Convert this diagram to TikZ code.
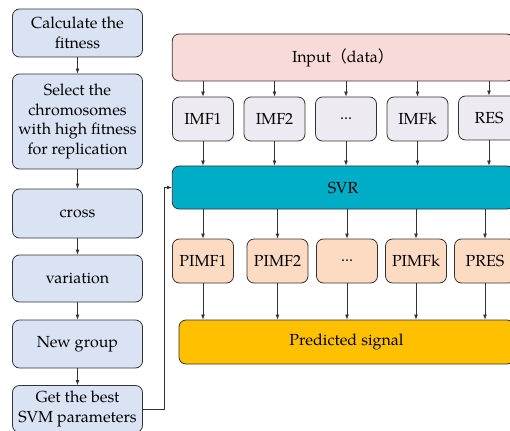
\documentclass[tikz,border=0pt]{standalone}
\usepackage{fontspec}
\setmainfont{TeX Gyre Pagella}
\newfontfamily\cjk{Noto Sans CJK SC}
\usepackage{xcolor}
\usetikzlibrary{arrows.meta}
\definecolor{gablue}{HTML}{DAE3F3}
\definecolor{inpink}{HTML}{F8DBD9}
\definecolor{imfgray}{HTML}{EEEAF1}
\definecolor{svrteal}{HTML}{00ADC6}
\definecolor{pimfpeach}{HTML}{FDDAC2}
\definecolor{predgold}{HTML}{FFC000}
\tikzset{
  box/.style={draw=black!80, line width=0.8pt, rounded corners=7pt, align=center,
    inner sep=0pt, font=\fontsize{16}{19.5}\selectfont},
  gabox/.style={box, fill=gablue, minimum width=130pt},
  imfbox/.style={box, fill=imfgray, minimum width=61pt, minimum height=44pt},
  pimfbox/.style={box, fill=pimfpeach, minimum width=61pt, minimum height=44pt},
  link/.style={draw=black!80, line width=0.8pt, -{Latex[length=5pt,width=4pt]}}
}

\begin{document}
\begin{tikzpicture}[x=1pt, y=-1pt]
  \useasboundingbox (0,0) rectangle (510,430);

  % genetic algorithm column
  \node [gabox, minimum height=48pt] (fit) at (77.5,33) {Calculate the\\fitness};
  \node [gabox, minimum height=95pt] (sel) at (77.5,121.5) {Select the\\chromosomes\\with high fitness\\for replication};
  \node [gabox, minimum height=49pt] (cross) at (77.5,213.5) {cross};
  \node [gabox, minimum height=47pt] (var) at (77.5,278.5) {variation};
  \node [gabox, minimum height=48pt] (group) at (77.5,344) {New group};
  \node [gabox, minimum height=47pt] (best) at (77.5,409) {Get the best\\SVM parameters};
  \draw [link] (fit) -- (sel);
  \draw [link] (sel) -- (cross);
  \draw [link] (cross) -- (var);
  \draw [link] (var) -- (group);
  \draw [link] (group) -- (best);

  % decomposition and prediction
  \node [box, fill=inpink, minimum width=341.5pt, minimum height=47pt] (input) at (343,57.5)
    {Input{\cjk（}data{\cjk）}};
  \node [imfbox] (imf1) at (203,119) {IMF1};
  \node [imfbox] (imf2) at (274.5,119) {IMF2};
  \node [imfbox] (imfd) at (346,119) {...};
  \node [imfbox] (imfk) at (417.5,119) {IMFk};
  \node [imfbox] (res) at (489,118) {RES};

  \node [box, fill=svrteal, minimum width=341.5pt, minimum height=43pt] (svr) at (343,187.5) {SVR};

  \node [pimfbox] (pimf1) at (203,261) {PIMF1};
  \node [pimfbox] (pimf2) at (277.5,261) {PIMF2};
  \node [pimfbox] (pimfd) at (347,261) {...};
  \node [pimfbox] (pimfk) at (416,261) {PIMFk};
  \node [pimfbox] (pres) at (485,261) {PRES};

  \node [box, fill=predgold, minimum width=335pt, minimum height=44pt] (pred) at (346.5,342) {Predicted signal};

  \foreach \n in {imf1,imf2,imfd,imfk,res} {
    \draw [link] (\n |- input.south) -- (\n.north);
    \draw [link] (\n.south) -- (\n |- svr.north);
  }
  \foreach \n in {pimf1,pimf2,pimfd,pimfk,pres} {
    \draw [link] (\n |- svr.south) -- (\n.north);
    \draw [link] (\n.south) -- (\n |- pred.north);
  }

  % feedback of the best parameters
  \draw [link] (best.east) -- ++(21,0) |- (svr.west);
\end{tikzpicture}
\end{document}
